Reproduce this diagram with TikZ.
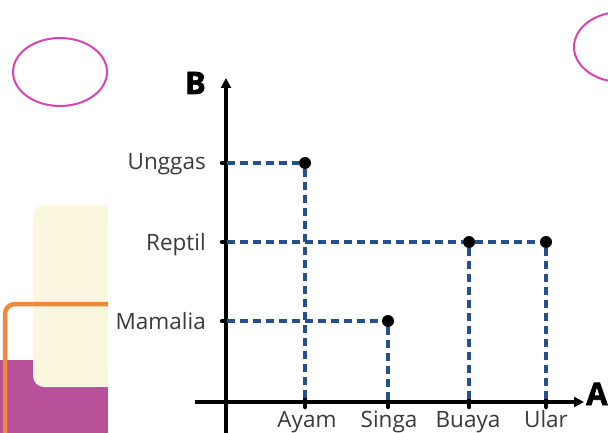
\documentclass[tikz,border=0pt]{standalone}
\usepackage{fontspec}
\setmainfont{Open Sans}
\newfontfamily\heavy[BoldFeatures={FakeBold=2}]{Open Sans}
\usetikzlibrary{arrows.meta}
\definecolor{cream}{HTML}{FBF7DF}
\definecolor{plum}{HTML}{B9509A}
\definecolor{orng}{HTML}{EE8A3E}
\definecolor{pinkline}{HTML}{D844B4}
\definecolor{dashblue}{HTML}{24508F}
\definecolor{txt}{HTML}{3A3A3A}
\tikzset{
  dashln/.style={dashblue, line width=3.2pt, dash pattern=on 8pt off 5pt},
  axisln/.style={black, line width=3.2pt},
  bigdot/.style={circle, fill=black, inner sep=0pt, minimum size=12pt},
  tickpt/.style={circle, inner sep=0pt, minimum size=1pt},
  tickln/.style={black, line width=4.5pt, line cap=round},
  lbl/.style={text=txt, font=\fontsize{22.5}{26}\selectfont, inner sep=0pt},
  axlbl/.style={text=black, font=\fontsize{31}{33}\selectfont\heavy\bfseries, inner sep=0pt},
  ring/.style={draw=pinkline, line width=2pt}
}
\begin{document}
\begin{tikzpicture}[x=1pt,y=-1pt]
\useasboundingbox (0,0) rectangle (608,433);
\clip (0,0) rectangle (608,433);
% decorations
\draw[ring] (60,72) ellipse [x radius=47, y radius=34];
\draw[ring] (621,47) ellipse [x radius=47, y radius=35];
\fill[plum] (0,360) rectangle (108,433);
\fill[cream, rounded corners=11pt] (33,205) -- (33,387) -- (108,387) -- (108,205) -- cycle;
\fill[cream] (60,205) rectangle (108,387);
\draw[orng, line width=4.5pt, rounded corners=10pt] (108,304) -- (5,304) -- (5,440);
% axes
\coordinate (xs) at (195,402);
\coordinate (xe) at (584,402);
\coordinate (ys) at (226,440);
\coordinate (ye) at (226,78);
\draw[axisln, -{Triangle[length=10pt,width=10pt]}] (xs) -- (xe);
\draw[axisln, -{Triangle[length=10pt,width=10pt]}] (ys) -- (ye);
\node[axlbl, anchor=base east] (B) at (206,94) {B};
\node[axlbl, anchor=base west] (A) at (586,405) {A};
% axis ticks
\node[tickpt] (yu) at (226,163) {};
\node[tickpt] (yr) at (226,242) {};
\node[tickpt] (ym) at (226,321) {};
\node[tickpt] (xa) at (305,402) {};
\node[tickpt] (xs2) at (388,402) {};
\node[tickpt] (xb) at (469,402) {};
\node[tickpt] (xu) at (546,402) {};
\foreach \t in {yu,yr,ym}{\draw[tickln] ([xshift=-4pt]\t.center) -- ([xshift=4pt]\t.center);}
\foreach \t in {xa,xs2,xb,xu}{\draw[tickln] ([yshift=-5pt]\t.center) -- ([yshift=5pt]\t.center);}
% data points
\node[bigdot] (pa) at (305,163) {};
\node[bigdot] (ps) at (388,321) {};
\node[bigdot] (pb) at (469,242) {};
\node[bigdot] (pu) at (546,242) {};
% dashed guides
\draw[dashln] (yu) -- (pa);
\draw[dashln] (pa) -- (xa);
\draw[dashln] (yr) -- (pb);
\draw[dashln] (pb) -- (pu);
\draw[dashln] (pb) -- (xb);
\draw[dashln] (pu) -- (xu);
\draw[dashln] (ym) -- (ps);
\draw[dashln] (ps) -- (xs2);
% labels
\node[lbl, anchor=base east] (lu) at (206,170) {Unggas};
\node[lbl, anchor=base east] (lr) at (206,250) {Reptil};
\node[lbl, anchor=base east] (lm) at (206,329) {Mamalia};
\node[lbl, anchor=base] (la) at (307,427) {Ayam};
\node[lbl, anchor=base] (ls) at (389,427) {Singa};
\node[lbl, anchor=base] (lb) at (468,427) {Buaya};
\node[lbl, anchor=base] (lul) at (546,427) {Ular};
\end{tikzpicture}
\end{document}
